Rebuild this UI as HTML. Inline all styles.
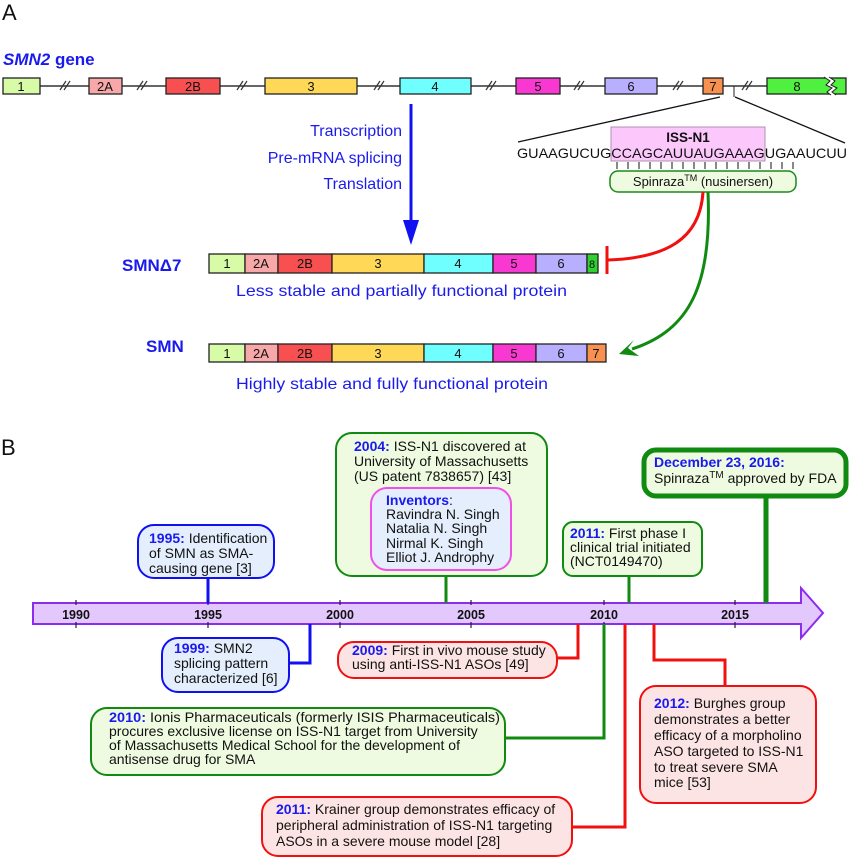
<!DOCTYPE html>
<html><head><meta charset="utf-8"><style>
html,body{margin:0;padding:0;background:#fff;}
svg{display:block;font-family:"Liberation Sans",Arial,sans-serif;}
</style></head><body>
<svg width="850" height="858" viewBox="0 0 850 858" xmlns="http://www.w3.org/2000/svg">
<!-- A -->
<text x="2" y="20" font-size="22" fill="#111">A</text>
<text x="3" y="65" font-size="17" font-weight="bold" fill="#1a1aee"><tspan font-style="italic">SMN2</tspan> gene</text>
<!-- gene line -->
<line x1="40" y1="86" x2="767" y2="86" stroke="#333" stroke-width="1.5"/>
<g stroke="#222" stroke-width="1.3">
<rect x="3" y="78" width="37" height="16" fill="#d8fba8"/>
<rect x="89" y="78" width="33" height="16" fill="#f8a8a8"/>
<rect x="166" y="78" width="54" height="16" fill="#f85050"/>
<rect x="265" y="78" width="92" height="16" fill="#ffd858"/>
<rect x="400" y="78" width="71" height="16" fill="#70ffff"/>
<rect x="516" y="78" width="44" height="16" fill="#f838d0"/>
<rect x="605" y="78" width="52" height="16" fill="#b8b0ff"/>
<rect x="703" y="78" width="20" height="16" fill="#f89050"/>
<rect x="767" y="78" width="79" height="16" fill="#50f040"/>
</g>
<path d="M824,77 L830,81 L826,85 L832,88 L827,92 L831,95 L836,95 L832,92 L837,88 L831,85 L835,81 L829,77 Z" fill="#fff"/>
<path d="M824,77 L830,81 L826,85 L832,88 L827,92 L831,95 M829,77 L835,81 L831,85 L837,88 L832,92 L836,95" fill="none" stroke="#222" stroke-width="1"/>
<g font-size="13" fill="#111" text-anchor="middle">
<text x="21" y="91">1</text><text x="105" y="91">2A</text><text x="193" y="91">2B</text><text x="311" y="91">3</text>
<text x="435" y="91">4</text><text x="538" y="91">5</text><text x="631" y="91">6</text><text x="713" y="91">7</text><text x="797" y="91">8</text>
</g>
<g stroke="#333" stroke-width="1.2" fill="none">
<path d="M60,90 L66,81 M64,90 L70,81"/><path d="M137,90 L143,81 M141,90 L147,81"/>
<path d="M237,90 L243,81 M241,90 L247,81"/><path d="M374,90 L380,81 M378,90 L384,81"/>
<path d="M486,90 L492,81 M490,90 L496,81"/><path d="M574,90 L580,81 M578,90 L584,81"/>
<path d="M673,90 L679,81 M677,90 L683,81"/><path d="M742,90 L748,81 M746,90 L752,81"/>
</g>
<line x1="734" y1="86" x2="734" y2="97" stroke="#222" stroke-width="1"/>
<line x1="720" y1="97" x2="518" y2="142" stroke="#111" stroke-width="1.3"/>
<line x1="735" y1="97" x2="845" y2="143" stroke="#111" stroke-width="1.3"/>
<!-- ISS-N1 -->
<rect x="611" y="127" width="154" height="34" fill="#fcc8fc" stroke="#b090b0" stroke-width="1"/>
<text x="688" y="142" font-size="13.5" font-weight="bold" text-anchor="middle" fill="#111">ISS-N1</text>
<text x="517" y="158" font-size="14" fill="#111" textLength="330" lengthAdjust="spacingAndGlyphs">GUAAGUCUGCCAGCAUUAUGAAAGUGAAUCUU</text>
<g stroke="#111" stroke-width="1">
<path d="M617,162v7M628,162v7M639,162v7M650,162v7M661,162v7M672,162v7M683,162v7M694,162v7M705,162v7M716,162v7M727,162v7M738,162v7M749,162v7M760,162v7M771,162v7M782,162v7M793,162v7"/>
</g>
<rect x="610" y="171" width="186" height="21" rx="8" fill="#eefbe0" stroke="#1a8a1a" stroke-width="1.5"/>
<text x="703" y="186" font-size="13" text-anchor="middle" fill="#111">Spinraza<tspan font-size="9" dy="-5">TM</tspan><tspan dy="5"> (nusinersen)</tspan></text>
<!-- blue arrow -->
<line x1="411" y1="104" x2="411" y2="224" stroke="#1010f0" stroke-width="3"/>
<polygon points="403,220 419,220 411,245" fill="#1010f0"/>
<g font-size="16" fill="#1a1aee" text-anchor="end">
<text x="402" y="136">Transcription</text><text x="402" y="163">Pre-mRNA splicing</text><text x="402" y="189">Translation</text>
</g>
<!-- red / green curves -->
<path d="M703,192 C700,240 665,258 608,260" fill="none" stroke="#f01010" stroke-width="3"/>
<line x1="607" y1="246" x2="607" y2="274" stroke="#f01010" stroke-width="3"/>
<path d="M708,192 C712,285 690,330 632,349" fill="none" stroke="#108a10" stroke-width="3"/>
<polygon points="619,354 634,340 628,348 639,356" fill="#108a10"/>
<!-- proteins -->
<text x="122" y="271" font-size="17" font-weight="bold" fill="#1a1aee">SMNΔ7</text>
<g stroke="#222" stroke-width="1.3">
<rect x="209" y="254" width="36" height="19" fill="#d8fba8"/><rect x="245" y="254" width="33" height="19" fill="#f8a8a8"/>
<rect x="278" y="254" width="54" height="19" fill="#f85050"/><rect x="332" y="254" width="92" height="19" fill="#ffd858"/>
<rect x="424" y="254" width="69" height="19" fill="#70ffff"/><rect x="493" y="254" width="43" height="19" fill="#f838d0"/>
<rect x="536" y="254" width="51" height="19" fill="#b8b0ff"/><rect x="587" y="254" width="11" height="19" fill="#30d030"/>
<rect x="209" y="344" width="36" height="18" fill="#d8fba8"/><rect x="245" y="344" width="33" height="18" fill="#f8a8a8"/>
<rect x="278" y="344" width="54" height="18" fill="#f85050"/><rect x="332" y="344" width="92" height="18" fill="#ffd858"/>
<rect x="424" y="344" width="69" height="18" fill="#70ffff"/><rect x="493" y="344" width="43" height="18" fill="#f838d0"/>
<rect x="536" y="344" width="51" height="18" fill="#b8b0ff"/><rect x="587" y="344" width="19" height="18" fill="#f89050"/>
</g>
<g font-size="13" fill="#111" text-anchor="middle">
<text x="227" y="268">1</text><text x="261" y="268">2A</text><text x="305" y="268">2B</text><text x="378" y="268">3</text><text x="458" y="268">4</text><text x="514" y="268">5</text><text x="561" y="268">6</text><text x="592" y="268" font-size="11">8</text>
<text x="227" y="358">1</text><text x="261" y="358">2A</text><text x="305" y="358">2B</text><text x="378" y="358">3</text><text x="458" y="358">4</text><text x="514" y="358">5</text><text x="561" y="358">6</text><text x="596" y="358">7</text>
</g>
<text x="236" y="296" font-size="16" fill="#1a1aee" textLength="331" lengthAdjust="spacingAndGlyphs">Less stable and partially functional protein</text>
<text x="146" y="352" font-size="17" font-weight="bold" fill="#1a1aee">SMN</text>
<text x="236" y="389" font-size="16" fill="#1a1aee" textLength="312" lengthAdjust="spacingAndGlyphs">Highly stable and fully functional protein</text>

<!-- B -->
<text x="1" y="455" font-size="22" fill="#111">B</text>
<!-- timeline -->
<polygon points="33,603 801,603 801,588 823,613 801,638 801,624 33,624" fill="#e2c8fc" stroke="#8c2cf0" stroke-width="2"/>
<g stroke="#222" stroke-width="1.2">
<path d="M76,600v5M208,600v5M340,600v5M471,600v5M604,600v5M735,600v5"/>
<path d="M76,622v6M208,622v6M340,622v6M471,622v6M604,622v6M735,622v6"/>
</g>
<g font-size="12.5" font-weight="bold" fill="#111" text-anchor="middle">
<text x="76" y="619">1990</text><text x="208" y="619">1995</text><text x="340" y="619">2000</text><text x="471" y="619">2005</text><text x="604" y="619">2010</text><text x="735" y="619">2015</text>
</g>
<!-- connectors -->
<line x1="208" y1="578" x2="208" y2="603" stroke="#1010f0" stroke-width="3"/>
<line x1="446" y1="576" x2="446" y2="603" stroke="#108a10" stroke-width="3"/>
<line x1="629" y1="576" x2="629" y2="603" stroke="#108a10" stroke-width="3"/>
<line x1="766" y1="497" x2="766" y2="603" stroke="#108a10" stroke-width="5"/>
<path d="M310,624 V663 H289" fill="none" stroke="#1010f0" stroke-width="3"/>
<path d="M578,624 V658 H557" fill="none" stroke="#f01010" stroke-width="3"/>
<path d="M604,624 V738 H505" fill="none" stroke="#108a10" stroke-width="3"/>
<path d="M625,624 V827 H572" fill="none" stroke="#f01010" stroke-width="3"/>
<path d="M654,624 V660 H725 V686" fill="none" stroke="#f01010" stroke-width="3"/>
<!-- boxes -->
<rect x="138" y="525" width="136" height="53" rx="16" fill="#e4eefc" stroke="#1010f0" stroke-width="2"/>
<rect x="336" y="433" width="211" height="143" rx="16" fill="#eefbe0" stroke="#108a10" stroke-width="2"/>
<rect x="371" y="488" width="140" height="82" rx="16" fill="#e4eefc" stroke="#f050e8" stroke-width="2"/>
<rect x="563" y="522" width="139" height="54" rx="10" fill="#eefbe0" stroke="#108a10" stroke-width="2"/>
<rect x="644" y="450" width="202" height="46" rx="12" fill="#eefbe0" stroke="#108a10" stroke-width="5"/>
<rect x="162" y="638" width="127" height="54" rx="16" fill="#e4eefc" stroke="#1010f0" stroke-width="2"/>
<rect x="338" y="642" width="219" height="36" rx="16" fill="#fde4e4" stroke="#f01010" stroke-width="2"/>
<rect x="91" y="708" width="414" height="67" rx="16" fill="#eefbe0" stroke="#108a10" stroke-width="2"/>
<rect x="262" y="797" width="310" height="59" rx="16" fill="#fde4e4" stroke="#f01010" stroke-width="2"/>
<rect x="640" y="686" width="176" height="117" rx="16" fill="#fde4e4" stroke="#f01010" stroke-width="2"/>
<!-- box text -->
<g font-size="14" fill="#111">
<text x="149" y="543"><tspan fill="#1a1aee" font-weight="bold">1995:</tspan> Identification</text>
<text x="149" y="558">of SMN as SMA-</text>
<text x="149" y="573">causing gene [3]</text>

<text x="354" y="451"><tspan fill="#1a1aee" font-weight="bold">2004:</tspan> ISS-N1 discovered at</text>
<text x="354" y="466">University of Massachusetts</text>
<text x="354" y="481">(US patent 7838657) [43]</text>
<text x="386" y="505" fill="#1a1aee" font-weight="bold">Inventors<tspan fill="#111" font-weight="normal">:</tspan></text>
<text x="386" y="519">Ravindra N. Singh</text>
<text x="386" y="533">Natalia N. Singh</text>
<text x="386" y="548">Nirmal K. Singh</text>
<text x="386" y="562">Elliot J. Androphy</text>

<text x="570" y="538"><tspan fill="#1a1aee" font-weight="bold">2011:</tspan> First phase I</text>
<text x="570" y="552">clinical trial initiated</text>
<text x="570" y="566">(NCT0149470)</text>

<text x="654" y="467" fill="#1a1aee" font-weight="bold">December 23, 2016:</text>
<text x="654" y="483">Spinraza<tspan font-size="10" dy="-5">TM</tspan><tspan dy="5"> approved by FDA</tspan></text>

<text x="174" y="653"><tspan fill="#1a1aee" font-weight="bold">1999:</tspan> SMN2</text>
<text x="174" y="668">splicing pattern</text>
<text x="174" y="683">characterized [6]</text>

<text x="352" y="655"><tspan fill="#1a1aee" font-weight="bold">2009:</tspan> First in vivo mouse study</text>
<text x="352" y="669">using anti-ISS-N1 ASOs [49]</text>

<text x="109" y="722" textLength="391" lengthAdjust="spacingAndGlyphs"><tspan fill="#1a1aee" font-weight="bold">2010:</tspan> Ionis Pharmaceuticals (formerly ISIS Pharmaceuticals)</text>
<text x="109" y="736">procures exclusive license on ISS-N1 target from University</text>
<text x="109" y="750">of Massachusetts Medical School for the development of</text>
<text x="109" y="764">antisense drug for SMA</text>

<text x="276" y="814"><tspan fill="#1a1aee" font-weight="bold">2011:</tspan> Krainer group demonstrates efficacy of</text>
<text x="276" y="830">peripheral administration of ISS-N1 targeting</text>
<text x="276" y="846">ASOs in a severe mouse model [28]</text>

<text x="654" y="708"><tspan fill="#1a1aee" font-weight="bold">2012:</tspan> Burghes group</text>
<text x="654" y="724">demonstrates a better</text>
<text x="654" y="740">efficacy of a morpholino</text>
<text x="654" y="756">ASO targeted to ISS-N1</text>
<text x="654" y="772">to treat severe SMA</text>
<text x="654" y="787">mice [53]</text>
</g>
</svg>
</body></html>
